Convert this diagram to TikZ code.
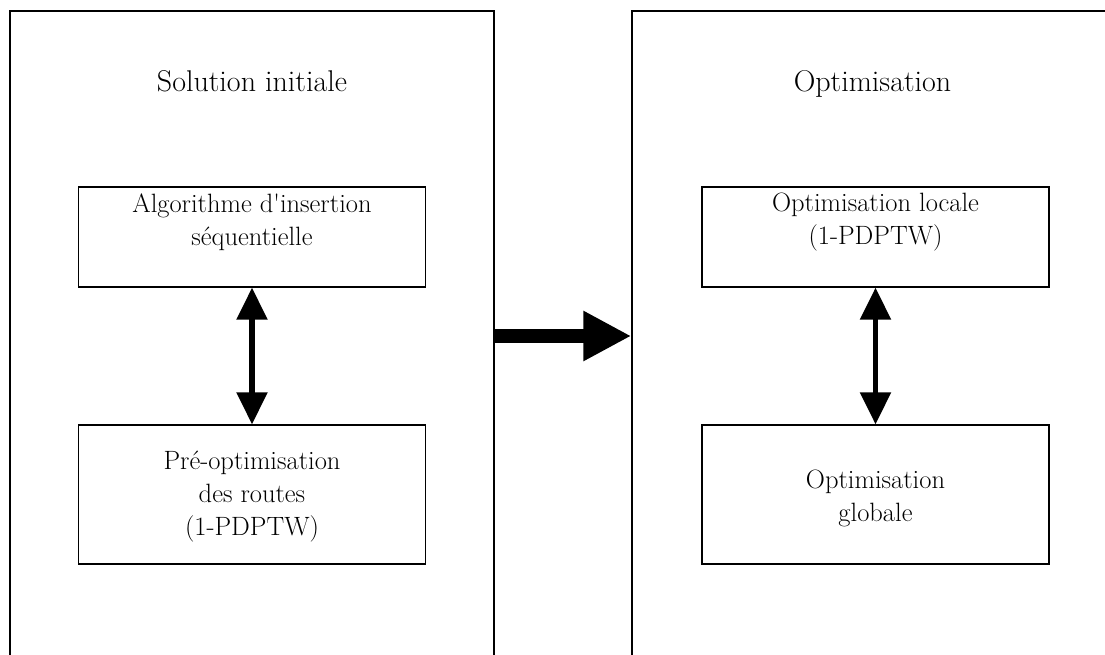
\documentclass[tikz,border=0pt]{standalone}
\usepackage{fontspec}
\usetikzlibrary{arrows.meta}
\begin{document}
\begin{tikzpicture}[x=1pt,y=-1pt,
  bigbox/.style={draw,line width=1.5pt,minimum height=650pt,inner sep=0pt},
  innerbox/.style={draw,line width=1.3pt,minimum width=347pt,inner sep=0pt},
  boxtext/.style={align=center,font=\fontsize{26.5}{33}\selectfont,inner sep=0pt},
  title/.style={anchor=base,font=\fontsize{30}{34}\selectfont,inner sep=0pt},
  link/.style={line width=5.5pt,{Triangle[length=32pt,width=30pt]}-{Triangle[length=32pt,width=30pt]}},
  flow/.style={line width=14pt,-{Triangle[length=48pt,width=47pt]}}]
\useasboundingbox (0,0) rectangle (1105,655);
\clip (0,0) rectangle (1105,655);
\node[bigbox,minimum width=484pt] (Lbig) at (252,336) {};
\node[bigbox,minimum width=481pt] (Rbig) at (872.5,336) {};
\node[innerbox,minimum height=100pt] (L1) at (252,237) {};
\node[innerbox,minimum height=139pt] (L2) at (252,494.5) {};
\node[innerbox,minimum height=100pt] (R1) at (875.5,237) {};
\node[innerbox,minimum height=139pt] (R2) at (875.5,494.5) {};
\node[title] (Lt) at (252,92) {Solution initiale};
\node[title] (Rt) at (872.5,92) {Optimisation};
\node[boxtext] (L1t) at (252,222.5) {Algorithme d\textquotesingle insertion\\séquentielle};
\node[boxtext] (L2t) at (252,496.5) {Pré-optimisation\\des routes\\(1-PDPTW)};
\node[boxtext] (R1t) at (875.5,222.5) {Optimisation locale\\(1-PDPTW)};
\node[boxtext] (R2t) at (875.5,498) {Optimisation\\globale};
\draw[link] (L1.south) -- (L2.north);
\draw[link] (R1.south) -- (R2.north);
\draw[flow] (Lbig.east) -- (Rbig.west);
\end{tikzpicture}
\end{document}
